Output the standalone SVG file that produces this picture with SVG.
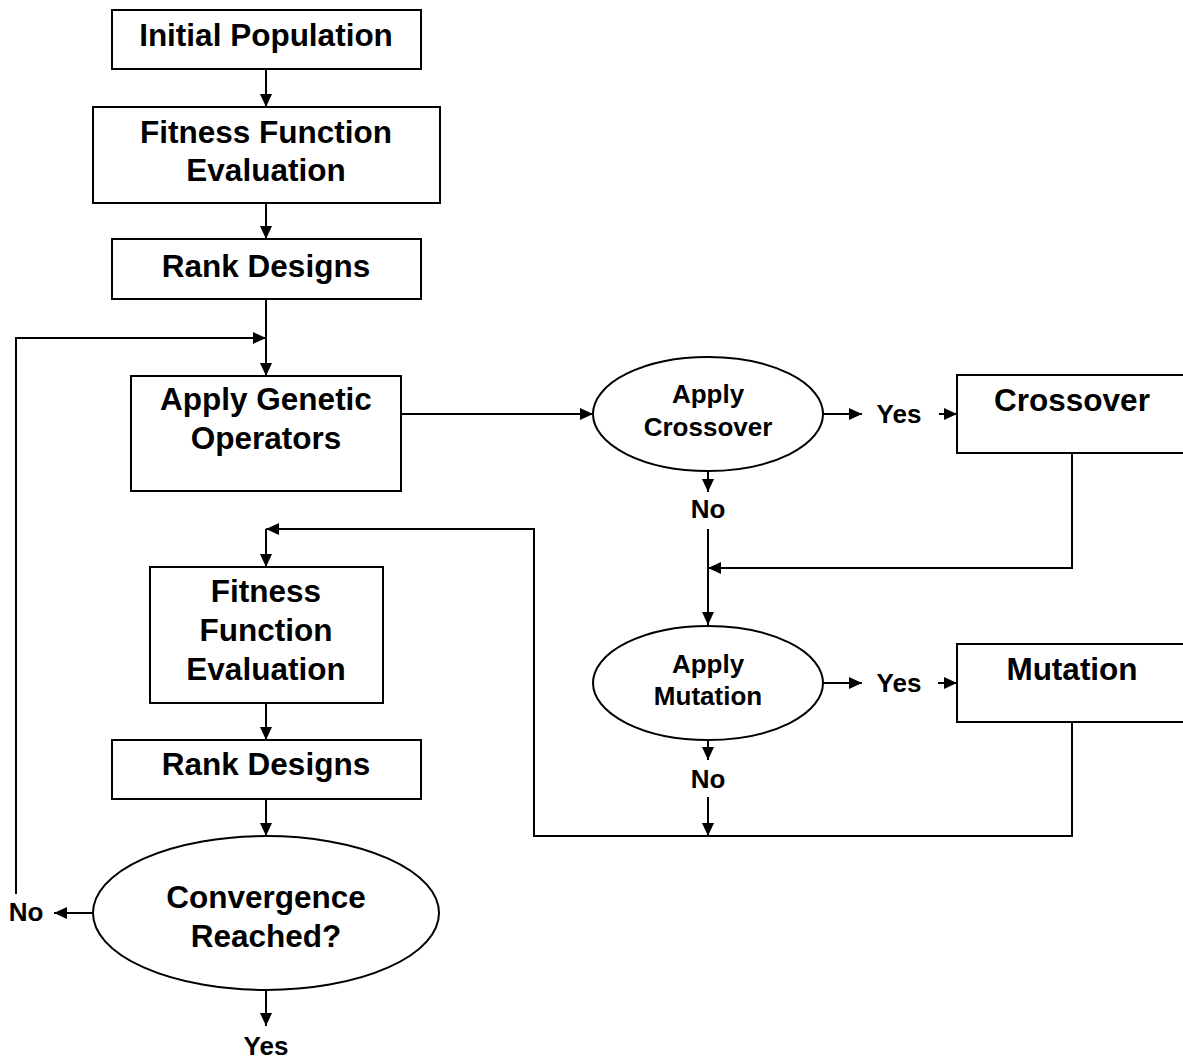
<svg xmlns="http://www.w3.org/2000/svg" width="1183" height="1059" viewBox="0 0 1183 1059">
<style>
.box{fill:#fff;stroke:#000;stroke-width:2}
.t{font-family:"Liberation Sans",Arial,sans-serif;font-weight:bold;font-size:31.5px;text-anchor:middle;fill:#000}
.s{font-family:"Liberation Sans",Arial,sans-serif;font-weight:bold;font-size:26px;text-anchor:middle;fill:#000}
.c{fill:none;stroke:#000;stroke-width:2}
</style>
<defs>
<marker id="ah" markerUnits="userSpaceOnUse" markerWidth="14" markerHeight="12" refX="13" refY="6" orient="auto">
<path d="M0,0 L13,6 L0,12 Z" fill="#000"/>
</marker>
</defs>
<rect width="1183" height="1059" fill="#fff"/>
<g id="connectors">
<line class="c" x1="266" y1="69" x2="266" y2="107" marker-end="url(#ah)"/>
<line class="c" x1="266" y1="203" x2="266" y2="239" marker-end="url(#ah)"/>
<line class="c" x1="266" y1="299" x2="266" y2="376" marker-end="url(#ah)"/>
<polyline class="c" points="16,894 16,338 266,338" marker-end="url(#ah)"/>
<line class="c" x1="401" y1="414" x2="593" y2="414" marker-end="url(#ah)"/>
<line class="c" x1="823" y1="414" x2="862" y2="414" marker-end="url(#ah)"/>
<line class="c" x1="939" y1="414" x2="957" y2="414" marker-end="url(#ah)"/>
<line class="c" x1="708" y1="471" x2="708" y2="492" marker-end="url(#ah)"/>
<line class="c" x1="708" y1="529" x2="708" y2="625" marker-end="url(#ah)"/>
<polyline class="c" points="1072,453 1072,568 708,568" marker-end="url(#ah)"/>
<line class="c" x1="823" y1="683" x2="862" y2="683" marker-end="url(#ah)"/>
<line class="c" x1="938" y1="683" x2="957" y2="683" marker-end="url(#ah)"/>
<line class="c" x1="708" y1="740" x2="708" y2="760" marker-end="url(#ah)"/>
<line class="c" x1="708" y1="797" x2="708" y2="836" marker-end="url(#ah)"/>
<polyline class="c" points="1072,722 1072,836 534,836 534,529 266,529" marker-end="url(#ah)"/>
<line class="c" x1="266" y1="529" x2="266" y2="567" marker-end="url(#ah)"/>
<line class="c" x1="266" y1="703" x2="266" y2="740" marker-end="url(#ah)"/>
<line class="c" x1="266" y1="799" x2="266" y2="836" marker-end="url(#ah)"/>
<line class="c" x1="93" y1="913" x2="54" y2="913" marker-end="url(#ah)"/>
<line class="c" x1="266" y1="990" x2="266" y2="1026" marker-end="url(#ah)"/>
</g>
<g id="initial-population">
<rect class="box" x="112" y="10" width="309" height="59"/>
<text class="t" x="266" y="46">Initial Population</text>
</g>
<g id="fitness-1">
<rect class="box" x="93" y="107" width="347" height="96"/>
<text class="t" x="266" y="143">Fitness Function</text>
<text class="t" x="266" y="181">Evaluation</text>
</g>
<g id="rank-1">
<rect class="box" x="112" y="239" width="309" height="60"/>
<text class="t" x="266" y="277">Rank Designs</text>
</g>
<g id="apply-genetic">
<rect class="box" x="131" y="376" width="270" height="115"/>
<text class="t" x="266" y="410">Apply Genetic</text>
<text class="t" x="266" y="449">Operators</text>
</g>
<g id="apply-crossover">
<ellipse class="box" cx="708" cy="414" rx="115" ry="57"/>
<text class="s" x="708" y="403">Apply</text>
<text class="s" x="708" y="436">Crossover</text>
</g>
<g id="yes-crossover"><text class="s" x="899" y="423">Yes</text></g>
<g id="crossover">
<rect class="box" x="957" y="375" width="240" height="78"/>
<text class="t" x="1072" y="411">Crossover</text>
</g>
<g id="no-crossover"><text class="s" x="708" y="518">No</text></g>
<g id="apply-mutation">
<ellipse class="box" cx="708" cy="683" rx="115" ry="57"/>
<text class="s" x="708" y="673">Apply</text>
<text class="s" x="708" y="705">Mutation</text>
</g>
<g id="yes-mutation"><text class="s" x="899" y="692">Yes</text></g>
<g id="mutation">
<rect class="box" x="957" y="644" width="240" height="78"/>
<text class="t" x="1072" y="680">Mutation</text>
</g>
<g id="no-mutation"><text class="s" x="708" y="788">No</text></g>
<g id="fitness-2">
<rect class="box" x="150" y="567" width="233" height="136"/>
<text class="t" x="266" y="602">Fitness</text>
<text class="t" x="266" y="641">Function</text>
<text class="t" x="266" y="680">Evaluation</text>
</g>
<g id="rank-2">
<rect class="box" x="112" y="740" width="309" height="59"/>
<text class="t" x="266" y="775">Rank Designs</text>
</g>
<g id="convergence">
<ellipse class="box" cx="266" cy="913" rx="173" ry="77"/>
<text class="t" x="266" y="908">Convergence</text>
<text class="t" x="266" y="947">Reached?</text>
</g>
<g id="no-convergence"><text class="s" x="26" y="921">No</text></g>
<g id="yes-convergence"><text class="s" x="266" y="1055">Yes</text></g>
</svg>
